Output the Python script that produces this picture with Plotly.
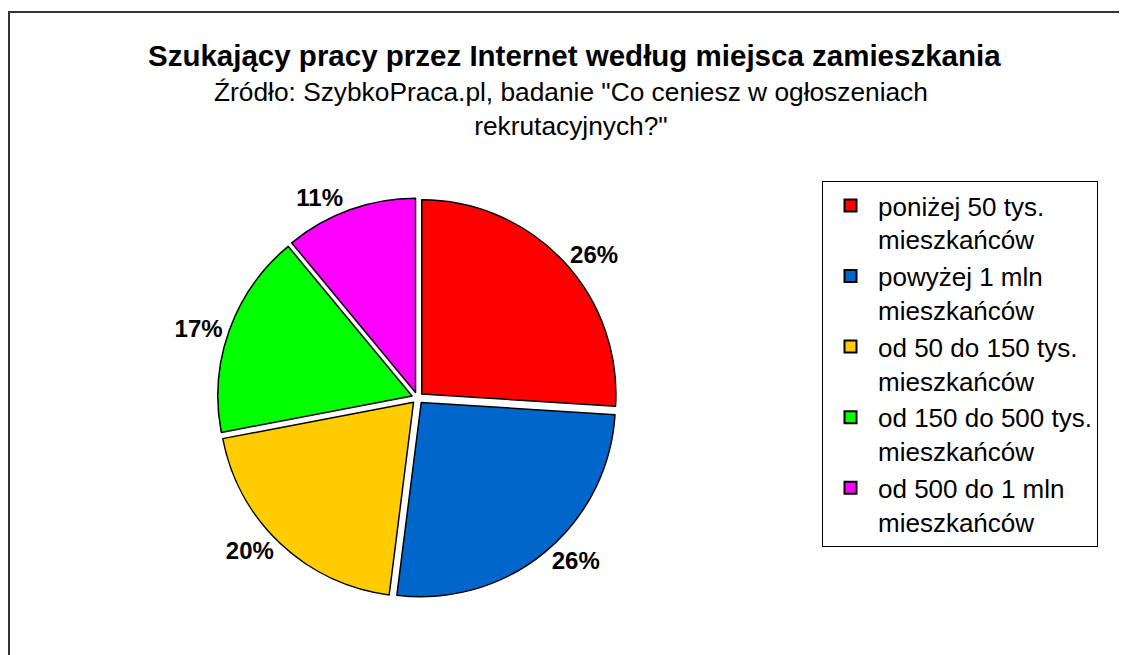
import plotly.graph_objects as go

categories = [
    "poniżej 50 tys.<br>mieszkańców",
    "powyżej 1 mln<br>mieszkańców",
    "od 50 do 150 tys.<br>mieszkańców",
    "od 150 do 500 tys.<br>mieszkańców",
    "od 500 do 1 mln<br>mieszkańców",
]
values = [26, 26, 20, 17, 11]
colors = ["#FF0000", "#0066CC", "#FFCC00", "#00FF00", "#FF00FF"]

W, H = 1127, 655
FONT = "Liberation Sans, Arial, sans-serif"
OFF = 8  # page body margin in the browser


def px(x):
    return (x - OFF) / W


def py(y):
    return 1 - (y - OFF) / H


fig = go.Figure()
fig.add_trace(go.Pie(
    labels=categories,
    values=values,
    sort=False,
    direction="clockwise",
    rotation=0,
    pull=[0.03, 0.03, 0.03, 0.03, 0.03],
    marker=dict(colors=colors, line=dict(color="#000000", width=1.5)),
    textinfo="percent",
    texttemplate="<b>%{percent:.0%}</b>",
    textposition="outside",
    outsidetextfont=dict(family=FONT, size=24, color="#000000"),
    domain=dict(x=[px(105), px(730)], y=[py(598), py(198)]),
    hoverinfo="label+percent",
))

fig.update_layout(
    width=W, height=H,
    autosize=False,
    margin=dict(l=0, r=0, t=0, b=0, pad=0, autoexpand=False),
    paper_bgcolor="white",
    plot_bgcolor="white",
    font=dict(family=FONT, color="#000000"),
    showlegend=True,
    legend=dict(
        x=px(822), y=py(181), xanchor="left", yanchor="top",
        bordercolor="#000000", borderwidth=1,
        font=dict(size=26, family=FONT, color="#000000"),
        valign="top",
        itemwidth=45,
        itemsizing="constant",
    ),
    annotations=[
        dict(text="<b>Szukający pracy przez Internet według miejsca zamieszkania</b>",
             x=px(574), y=py(55), xref="paper", yref="paper",
             xanchor="center", yanchor="middle",
             showarrow=False, font=dict(size=29.5)),
        dict(text="Źródło: SzybkoPraca.pl, badanie \"Co ceniesz w ogłoszeniach<br>rekrutacyjnych?\"",
             x=px(571), y=py(109), xref="paper", yref="paper",
             xanchor="center", yanchor="middle",
             showarrow=False, font=dict(size=26.3)),
    ],
    shapes=[
        dict(type="rect", xref="paper", yref="paper",
             x0=px(9), x1=1.05, y0=-0.05, y1=py(12),
             line=dict(color="#333333", width=2), fillcolor="rgba(0,0,0,0)"),
    ],
)

fig.write_html("out.html")
